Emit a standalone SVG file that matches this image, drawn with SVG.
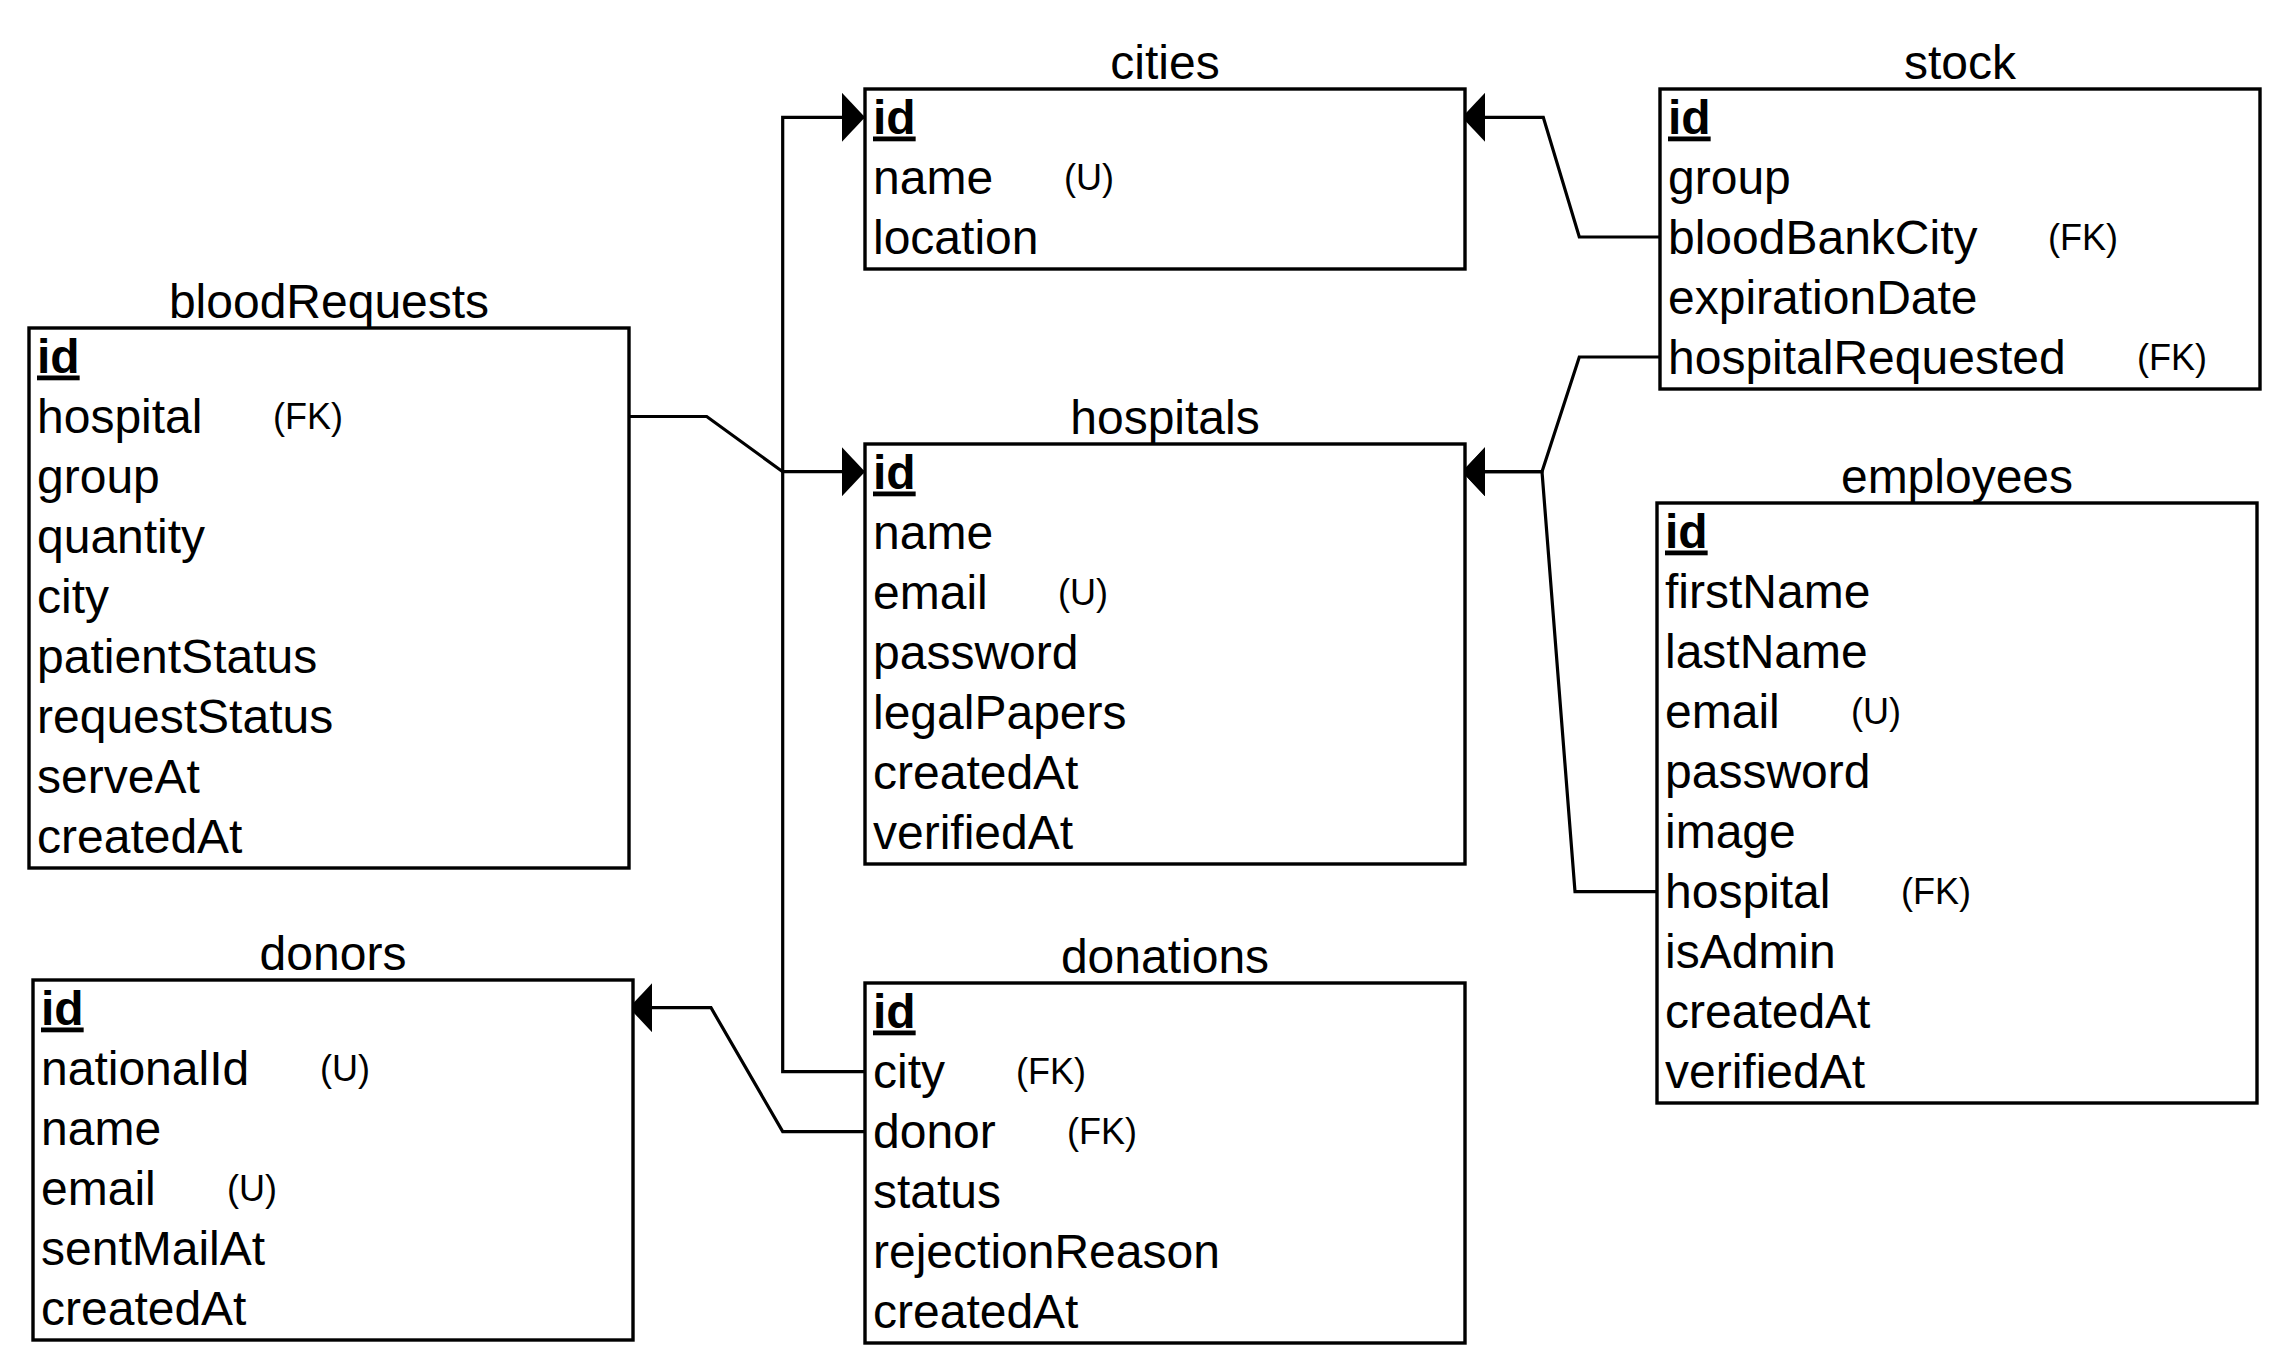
<svg xmlns="http://www.w3.org/2000/svg" width="2288" height="1370" viewBox="0 0 2288 1370">
<defs>
<style>
.box{fill:#fff;stroke:#000;stroke-width:3.4}
.t{font-family:"Liberation Sans",Arial,sans-serif;font-size:48px;fill:#000}
.title{text-anchor:middle}
.pk{font-weight:bold;text-decoration:underline}
.k{font-family:"Liberation Sans",Arial,sans-serif;font-size:36px;fill:#000}
.c{fill:none;stroke:#000;stroke-width:3.2;stroke-linejoin:miter}
</style>
<marker id="arr" viewBox="0 0 23 49" refX="23" refY="24.5" markerWidth="23" markerHeight="49" markerUnits="userSpaceOnUse" orient="auto">
<path d="M0,0 L23,24.5 L0,49 Z" fill="#000"/>
</marker>
</defs>
<rect width="2288" height="1370" fill="#fff"/>

<g id="connectors">
<path class="c" d="M865,1071.6 L782.7,1071.6 L782.7,117.3 L865,117.3" marker-end="url(#arr)"/>
<path class="c" d="M629,416.5 L706.7,416.5 L782.7,471.7 L865,471.7" marker-end="url(#arr)"/>
<path class="c" d="M1660,237 L1579.3,237 L1543.3,117.3 L1462,117.3" marker-end="url(#arr)"/>
<path class="c" d="M1660,357 L1579.3,357 L1542,471.7 L1462,471.7" marker-end="url(#arr)"/>
<path class="c" d="M1657,891.6 L1575,891.6 L1542,471.7 L1462,471.7" marker-end="url(#arr)"/>
<path class="c" d="M865,1131.6 L782.7,1131.6 L711,1007.7 L629,1007.7" marker-end="url(#arr)"/>
</g>

<g id="cities">
<rect class="box" x="865" y="89" width="600" height="180"/>
<text class="t title" x="1165" y="78.5">cities</text>
<text class="t pk" x="873" y="133.5">id</text>
<text class="t" x="873" y="193.5">name</text><text class="k" x="1064" y="189.5">(U)</text>
<text class="t" x="873" y="253.5">location</text>
</g>

<g id="stock">
<rect class="box" x="1660" y="89" width="600" height="300"/>
<text class="t title" x="1960" y="78.5">stock</text>
<text class="t pk" x="1668" y="133.5">id</text>
<text class="t" x="1668" y="193.5">group</text>
<text class="t" x="1668" y="253.5">bloodBankCity</text><text class="k" x="2048" y="249.5">(FK)</text>
<text class="t" x="1668" y="313.5">expirationDate</text>
<text class="t" x="1668" y="373.5">hospitalRequested</text><text class="k" x="2137" y="369.5">(FK)</text>
</g>

<g id="bloodRequests">
<rect class="box" x="29" y="328" width="600" height="540"/>
<text class="t title" x="329" y="317.5">bloodRequests</text>
<text class="t pk" x="37" y="372.5">id</text>
<text class="t" x="37" y="432.5">hospital</text><text class="k" x="273" y="428.5">(FK)</text>
<text class="t" x="37" y="492.5">group</text>
<text class="t" x="37" y="552.5">quantity</text>
<text class="t" x="37" y="612.5">city</text>
<text class="t" x="37" y="672.5">patientStatus</text>
<text class="t" x="37" y="732.5">requestStatus</text>
<text class="t" x="37" y="792.5">serveAt</text>
<text class="t" x="37" y="852.5">createdAt</text>
</g>

<g id="hospitals">
<rect class="box" x="865" y="444" width="600" height="420"/>
<text class="t title" x="1165" y="433.5">hospitals</text>
<text class="t pk" x="873" y="488.5">id</text>
<text class="t" x="873" y="548.5">name</text>
<text class="t" x="873" y="608.5">email</text><text class="k" x="1058" y="604.5">(U)</text>
<text class="t" x="873" y="668.5">password</text>
<text class="t" x="873" y="728.5">legalPapers</text>
<text class="t" x="873" y="788.5">createdAt</text>
<text class="t" x="873" y="848.5">verifiedAt</text>
</g>

<g id="employees">
<rect class="box" x="1657" y="503" width="600" height="600"/>
<text class="t title" x="1957" y="492.5">employees</text>
<text class="t pk" x="1665" y="547.5">id</text>
<text class="t" x="1665" y="607.5">firstName</text>
<text class="t" x="1665" y="667.5">lastName</text>
<text class="t" x="1665" y="727.5">email</text><text class="k" x="1851" y="723.5">(U)</text>
<text class="t" x="1665" y="787.5">password</text>
<text class="t" x="1665" y="847.5">image</text>
<text class="t" x="1665" y="907.5">hospital</text><text class="k" x="1901" y="903.5">(FK)</text>
<text class="t" x="1665" y="967.5">isAdmin</text>
<text class="t" x="1665" y="1027.5">createdAt</text>
<text class="t" x="1665" y="1087.5">verifiedAt</text>
</g>

<g id="donors">
<rect class="box" x="33" y="980" width="600" height="360"/>
<text class="t title" x="333" y="969.5">donors</text>
<text class="t pk" x="41" y="1024.5">id</text>
<text class="t" x="41" y="1084.5">nationalId</text><text class="k" x="320" y="1080.5">(U)</text>
<text class="t" x="41" y="1144.5">name</text>
<text class="t" x="41" y="1204.5">email</text><text class="k" x="227" y="1200.5">(U)</text>
<text class="t" x="41" y="1264.5">sentMailAt</text>
<text class="t" x="41" y="1324.5">createdAt</text>
</g>

<g id="donations">
<rect class="box" x="865" y="983" width="600" height="360"/>
<text class="t title" x="1165" y="972.5">donations</text>
<text class="t pk" x="873" y="1027.5">id</text>
<text class="t" x="873" y="1087.5">city</text><text class="k" x="1016" y="1083.5">(FK)</text>
<text class="t" x="873" y="1147.5">donor</text><text class="k" x="1067" y="1143.5">(FK)</text>
<text class="t" x="873" y="1207.5">status</text>
<text class="t" x="873" y="1267.5">rejectionReason</text>
<text class="t" x="873" y="1327.5">createdAt</text>
</g>
</svg>
